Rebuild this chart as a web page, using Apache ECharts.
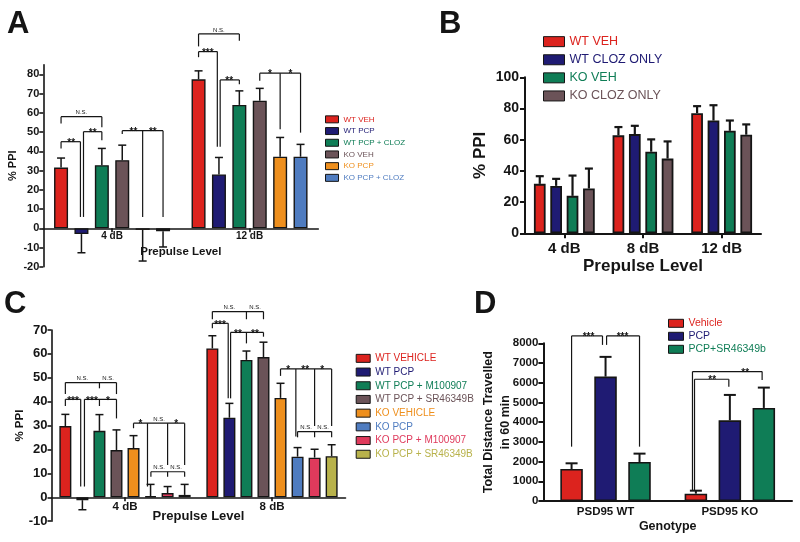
<!DOCTYPE html>
<html><head><meta charset="utf-8">
<script src="https://cdn.jsdelivr.net/npm/echarts@6/dist/echarts.min.js"></script>
<style>html,body{margin:0;padding:0;background:#fff}#c{width:800px;height:542px}</style>
</head><body><div id="c"></div>
<script>
// ---------------- DATA ----------------
// Panel A
const aCategories = ['4 dB', '12 dB'];
const aGroups = ['WT VEH', 'WT PCP', 'WT PCP + CLOZ', 'KO VEH', 'KO PCP', 'KO PCP + CLOZ'];
const aMeans = [[31.6, 77.4], [-3.0, 28.0], [32.8, 64.1], [35.4, 66.3], [-0.8, 37.2], [-1.5, 37.2]];
const aSem = [[4.9, 4.4], [9.7, 8.8], [8.7, 7.3], [7.8, 6.4], [16.2, 10.0], [8.2, 6.4]];
const aYTicks = [-20, -10, 0, 10, 20, 30, 40, 50, 60, 70, 80];
// significance brackets: [category, level, legs [barSlot, legBottom], labels [barSlot, text]]
const aSig = [
  [0, 58.0, [[0, 54.5], [2, 52.5]], [[1, 'N.S.']]],
  [0, 45.0, [[0, 41.5], [0.95, 5.9]], [[0.5, '**']]],
  [0, 50.2, [[1.1, 5.9], [2, 45.8]], [[1.55, '**']]],
  [0, 50.7, [[3, 49.0], [4, 5.9], [5, 5.9]], [[3.55, '**'], [4.5, '**']]],
  [1, 101.0, [[0, 94.5], [2, 97.5]], [[1, 'N.S.']]],
  [1, 91.8, [[0, 88.9], [0.92, 42.4]], [[0.45, '***']]],
  [1, 77.1, [[1.06, 42.4], [2, 74.8]], [[1.5, '**']]],
  [1, 80.6, [[3, 76.6], [4, 51.4], [5, 49.7]], [[3.5, '*'], [4.5, '*']]]
];

// Panel B
const bCategories = ['4 dB', '8 dB', '12 dB'];
const bGroups = ['WT VEH', 'WT CLOZ ONLY', 'KO VEH', 'KO CLOZ ONLY'];
const bMeans = [[31.7, 62.8, 77.0], [30.4, 63.6, 72.3], [24.0, 52.3, 65.7], [28.7, 47.9, 63.2]];
const bSem = [[4.9, 5.3, 4.5], [4.5, 5.3, 9.8], [13.0, 7.9, 6.6], [12.8, 11.0, 6.6]];
const bSig = [];

// Panel C
const cCategories = ['4 dB', '8 dB'];
const cGroups = ['WT VEHICLE', 'WT PCP', 'WT PCP + M100907', 'WT PCP + SR46349B', 'KO VEHICLE', 'KO PCP', 'KO PCP + M100907', 'KO PCP + SR46349B'];
const cMeans = [[29.8, 62.3], [-1.2, 33.3], [27.8, 57.5], [19.8, 58.7], [20.6, 41.6], [0.5, 17.0], [1.8, 16.6], [1.0, 17.2]];
const cSem = [[4.9, 5.3], [4.0, 6.0], [6.8, 3.7], [8.4, 6.2], [5.2, 6.1], [4.9, 3.8], [2.7, 3.5], [4.4, 4.8]];
const cSig = [
  [0, 48.0, [[0, 43.2], [2, 45.6], [3, 43.2]], [[1, 'N.S.'], [2.5, 'N.S.']]],
  [0, 41.0, [[0, 38.2], [0.9, 4.5]], [[0.45, '***']]],
  [0, 41.0, [[1.12, 4.5], [2, 38.2], [3, 33.0]], [[1.56, '***'], [2.5, '*']]],
  [0, 31.0, [[4, 28.9], [4.82, 4.5], [6, 13.5], [7, 13.5]], [[4.41, '*'], [5.5, 'N.S.'], [6.5, '*']]],
  [0, 10.7, [[5.02, 8.6], [6, 8.6], [7, 8.6]], [[5.5, 'N.S.'], [6.5, 'N.S.']]],
  [1, 77.7, [[0, 74.5], [2, 74.5], [3, 74.5]], [[1, 'N.S.'], [2.5, 'N.S.']]],
  [1, 72.8, [[0, 70.7], [0.93, 41.4]], [[0.45, '***']]],
  [1, 69.0, [[1.07, 41.4], [2, 64.4], [3, 67.2]], [[1.5, '**'], [2.5, '**']]],
  [1, 53.7, [[4, 50.8], [4.9, 25.4], [6, 29.8], [7, 29.8]], [[4.45, '*'], [5.45, '**'], [6.45, '*']]],
  [1, 27.5, [[5, 25.1], [6, 25.1], [7, 25.1]], [[5.5, 'N.S.'], [6.5, 'N.S.']]]
];

// Panel D
const dCategories = ['PSD95 WT', 'PSD95 KO'];
const dGroups = ['Vehicle', 'PCP', 'PCP+SR46349b'];
const dMeans = [[1624, 372], [6311, 4095], [1980, 4721]];
const dSem = [[288, 152], [1000, 1286], [423, 1032]];
const dSig = [
  [0, 8376, [[0, 2757], [0.91, 7919]], [[0.5, '***']]],
  [0, 8376, [[1.03, 7919], [2, 2757]], [[1.5, '***']]],
  [1, 6177, [[-0.04, 558], [0.97, 5802]], [[0.48, '**']]],
  [1, 6565, [[-0.1, 558], [1.95, 6142]], [[1.45, '**']]]
];

// ---------------- STYLE ----------------
const FONT = '"Liberation Sans", Arial, Helvetica, sans-serif';
const INK = '#151515';
const RED = '#dc231e', NAVY = '#1f1b73', GREEN = '#0f7d56', MAUVE = '#6b5358',
      ORANGE = '#ee8f1d', BLUE = '#4f7cc0', PINK = '#df3a5c', OLIVE = '#b8b24b';

const option = { animation: false, backgroundColor: '#fff', grid: [], xAxis: [], yAxis: [], legend: [], series: [], graphic: [] };

function addPanel(p) {
  const i = option.grid.length;
  const n = p.groups.length;
  const step = p.barW * (1 + p.gap);
  option.grid.push({ left: p.left, top: p.top, width: p.width, height: p.height });
  // x axis sits on the zero line: shift it up by the pixel height of the negative range
  const zeroShift = p.min < 0 ? -p.height * (-p.min) / (p.max - p.min) : 0;
  option.xAxis.push({
    type: 'category', gridIndex: i, data: p.cats, offset: zeroShift,
    axisLine: { onZero: false, lineStyle: { color: INK, width: p.axisW } },
    axisTick: { show: p.xTick, alignWithLabel: true, length: p.xTickLen, lineStyle: { color: INK, width: p.axisW } },
    axisLabel: { fontSize: p.xFont, fontWeight: 'bold', color: INK, margin: p.xMargin, fontFamily: FONT },
    name: p.xName, nameLocation: 'middle', nameGap: p.xNameGap, nameMoveOverlap: false,
    nameTextStyle: { fontSize: p.xNameFont, fontWeight: 'bold', color: INK, fontFamily: FONT }
  });
  const yLab = { fontSize: p.yFont, fontWeight: 'bold', color: INK, margin: p.yMargin, fontFamily: FONT,
    formatter: v => String(v) };
  const yTick = { show: true, length: p.yTickLen, lineStyle: { color: INK, width: p.axisW } };
  if (p.yTicks) {
    yLab.customValues = p.yTicks;
    yLab.formatter = v => (p.yTicks.indexOf(v) >= 0 ? String(v) : '');
    yTick.customValues = p.yTicks;
  }
  option.yAxis.push({
    type: 'value', gridIndex: i, min: p.min, max: p.max, interval: p.interval,
    splitLine: { show: false },
    axisLine: { show: true, lineStyle: { color: INK, width: p.axisW } },
    axisTick: yTick, axisLabel: yLab,
    name: p.yName, nameLocation: 'middle', nameGap: p.yNameGap, nameMoveOverlap: false,
    nameTextStyle: { fontSize: p.yNameFont, fontWeight: 'bold', color: INK, fontFamily: FONT, lineHeight: p.yNameLH }
  });
  p.groups.forEach((g, k) => option.series.push({
    type: 'bar', name: p.key + '|' + g, xAxisIndex: i, yAxisIndex: i,
    data: p.means[k], barWidth: p.barW, barGap: (p.gap * 100) + '%', z: 2,
    itemStyle: { color: p.colors[k], borderColor: INK, borderWidth: p.borderW }
  }));
  // error bars
  const errData = [];
  p.means.forEach((row, k) => row.forEach((m, c) => errData.push([c, k, m, p.sems[k][c]])));
  option.series.push({
    type: 'custom', xAxisIndex: i, yAxisIndex: i, z: 5, clip: false, silent: true,
    encode: { x: 0, y: 2 }, data: errData,
    renderItem: (params, api) => {
      const c = api.value(0), k = api.value(1), m = api.value(2), s = api.value(3);
      const base = api.coord([c, m]);
      const x = base[0] + (k - (n - 1) / 2) * step;
      const tip = api.coord([c, m + (m < 0 ? -s : s)])[1];
      const hw = p.capW / 2;
      const st = { stroke: INK, lineWidth: p.errW };
      return { type: 'group', children: [
        { type: 'line', shape: { x1: x, y1: base[1], x2: x, y2: tip }, style: st },
        { type: 'line', shape: { x1: x - hw, y1: tip, x2: x + hw, y2: tip }, style: st }
      ] };
    }
  });
  // significance brackets
  if (p.sig.length) {
    option.series.push({
      type: 'custom', xAxisIndex: i, yAxisIndex: i, z: 6, clip: false, silent: true,
      encode: { x: 0, y: 1 }, data: p.sig.map(s => [s[0], s[1]]),
      renderItem: (params, api) => {
        const s = p.sig[params.dataIndex];
        const cp = api.coord([s[0], s[1]]);
        const X = slot => cp[0] + (slot - (n - 1) / 2) * step;
        const yL = cp[1];
        const st = { stroke: INK, lineWidth: p.sigW };
        const xs = s[2].map(l => X(l[0]));
        const ch = [{ type: 'line', shape: { x1: Math.min(...xs), y1: yL, x2: Math.max(...xs), y2: yL }, style: st }];
        s[2].forEach(l => ch.push({ type: 'line', shape: { x1: X(l[0]), y1: yL, x2: X(l[0]), y2: api.coord([s[0], l[1]])[1] }, style: st }));
        s[3].forEach(t => {
          const ns = t[1] === 'N.S.';
          ch.push({ type: 'text', x: X(t[0]), y: ns ? yL - 1 : yL + p.starDy,
            style: { text: t[1], align: 'center', verticalAlign: ns ? 'bottom' : 'middle',
              fontSize: ns ? p.nsFont : p.starFont, fontFamily: FONT, fontWeight: ns ? 'normal' : 'bold', fill: INK } });
        });
        return { type: 'group', children: ch };
      }
    });
  }
  // legend
  option.legend.push({
    orient: 'vertical', left: p.legLeft, top: p.legTop, padding: 0, itemGap: 0,
    itemWidth: p.legW, itemHeight: p.legH, selectedMode: false, icon: 'rect',
    formatter: name => name.split('|')[1],
    itemStyle: { borderColor: INK, borderWidth: 1 },
    textStyle: { fontSize: p.legFont, lineHeight: p.legLH, fontFamily: FONT },
    data: p.groups.map((g, k) => ({ name: p.key + '|' + g, textStyle: { color: p.colors[k] } }))
  });
  // panel letter
  option.graphic.push({ type: 'text', left: p.letterX, top: p.letterY,
    style: { text: p.letter, fontSize: 31, fontWeight: 'bold', fontFamily: FONT, fill: INK } });
}

addPanel({ key: 'A', letter: 'A', letterX: 7, letterY: 9,
  cats: aCategories, groups: aGroups, means: aMeans, sems: aSem, sig: aSig,
  colors: [RED, NAVY, GREEN, MAUVE, ORANGE, BLUE],
  left: 43.3, top: 64.7, width: 275, height: 202.1,
  min: -20, max: 85, interval: 10, yTicks: aYTicks,
  barW: 14, gap: 0.457, borderW: 1.4, capW: 8, errW: 1.5, sigW: 1.2, axisW: 1.6,
  xTick: true, xTickLen: 4, xFont: 10, xMargin: 3, xName: 'Prepulse Level', xNameGap: 18, xNameFont: 11.5,
  yFont: 11, yMargin: 4, yTickLen: 4, yName: '% PPI', yNameGap: 25, yNameFont: 11,
  starFont: 10, nsFont: 6, starDy: 1.5,
  legLeft: 325, legTop: 113.5, legW: 13, legH: 7, legFont: 8, legLH: 11.7 });

addPanel({ key: 'B', letter: 'B', letterX: 439, letterY: 9,
  cats: bCategories, groups: bGroups, means: bMeans, sems: bSem, sig: bSig,
  colors: [RED, NAVY, GREEN, MAUVE],
  left: 525, top: 77.3, width: 236, height: 156,
  min: 0, max: 100, interval: 20,
  barW: 11.7, gap: 0.40, borderW: 1.8, capW: 8, errW: 2.2, sigW: 1.2, axisW: 2,
  xTick: true, xTickLen: 5, xFont: 15, xMargin: 8, xName: 'Prepulse Level', xNameGap: 25, xNameFont: 17,
  yFont: 14, yMargin: 6, yTickLen: 5, yName: '% PPI', yNameGap: 36, yNameFont: 17,
  starFont: 10, nsFont: 6, starDy: 1.5,
  legLeft: 543, legTop: 32.6, legW: 21, legH: 10, legFont: 12.5, legLH: 18.1 });

addPanel({ key: 'C', letter: 'C', letterX: 4, letterY: 289,
  cats: cCategories, groups: cGroups, means: cMeans, sems: cSem, sig: cSig,
  colors: [RED, NAVY, GREEN, MAUVE, ORANGE, BLUE, PINK, OLIVE],
  left: 51.5, top: 330, width: 294, height: 191.2,
  min: -10, max: 70, interval: 10,
  barW: 12, gap: 0.42, borderW: 1.4, capW: 8, errW: 1.5, sigW: 1.2, axisW: 1.6,
  xTick: true, xTickLen: 4, xFont: 11.5, xMargin: 4, xName: 'Prepulse Level', xNameGap: 13, xNameFont: 13,
  yFont: 13, yMargin: 4, yTickLen: 4, yName: '% PPI', yNameGap: 26, yNameFont: 11.5,
  starFont: 10, nsFont: 6, starDy: 1.5,
  legLeft: 355.7, legTop: 351.5, legW: 14, legH: 8, legFont: 10, legLH: 13.7 });

addPanel({ key: 'D', letter: 'D', letterX: 474, letterY: 289,
  cats: dCategories, groups: dGroups, means: dMeans, sems: dSem, sig: dSig,
  colors: [RED, NAVY, GREEN],
  left: 543.4, top: 343.3, width: 248.6, height: 157.7,
  min: 0, max: 8000, interval: 1000,
  barW: 22.5, gap: 0.51, borderW: 1.6, capW: 12, errW: 2, sigW: 1.2, axisW: 2,
  xTick: false, xTickLen: 4, xFont: 11.5, xMargin: 5, xName: 'Genotype', xNameGap: 19, xNameFont: 12.5,
  yFont: 11.5, yMargin: 5, yTickLen: 5, yName: 'Total Distance Travelled\nin 60 min', yNameGap: 29, yNameFont: 12.5, yNameLH: 17,
  starFont: 10, nsFont: 6, starDy: 1.5,
  legLeft: 668, legTop: 316.8, legW: 15, legH: 8, legFont: 10.5, legLH: 13 });

const chart = echarts.init(document.getElementById('c'), null, { renderer: 'canvas' });
chart.setOption(option);
</script>
</body></html>
